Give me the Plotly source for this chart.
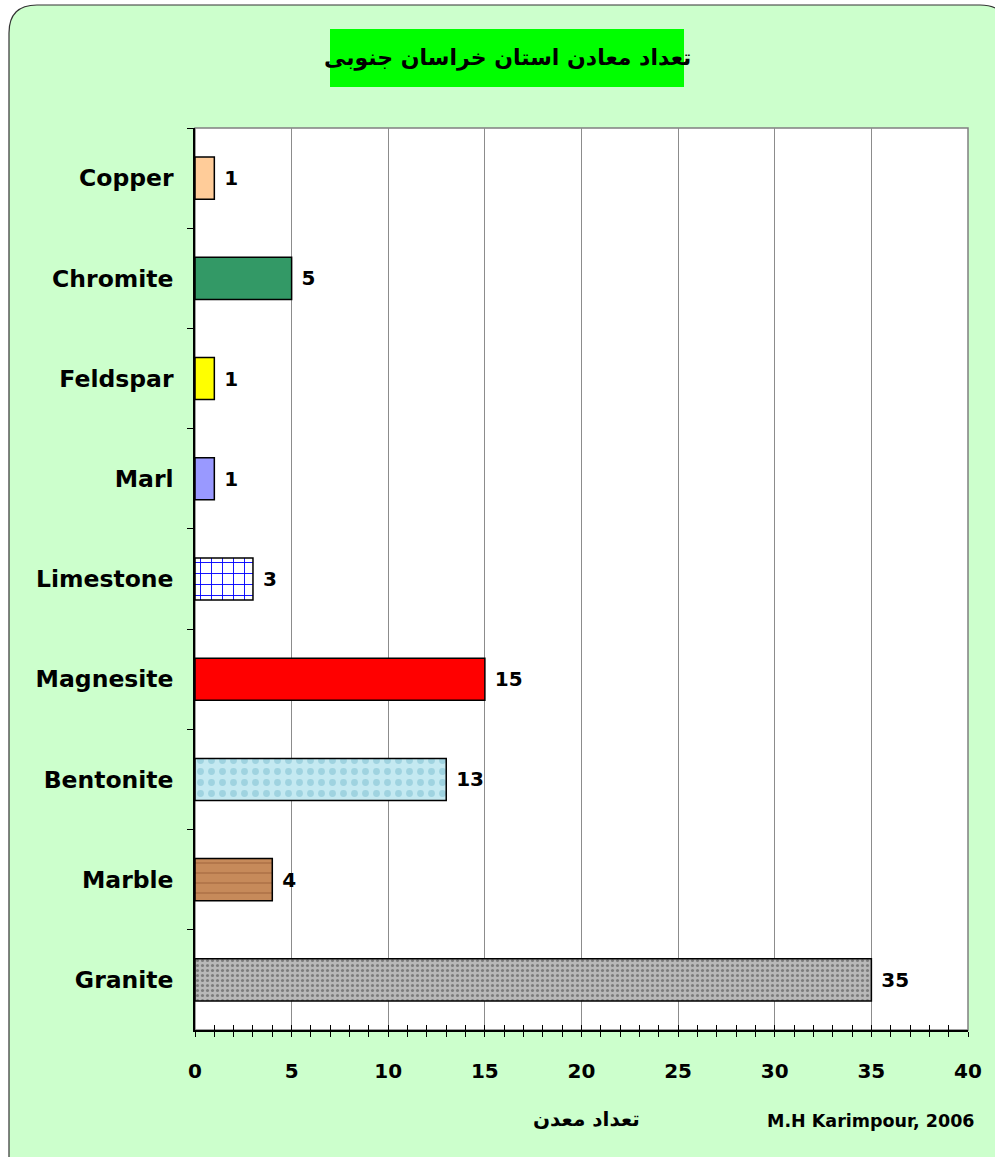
import plotly.graph_objects as go

# ---- data ----
categories = ["Copper", "Chromite", "Feldspar", "Marl", "Limestone",
              "Magnesite", "Bentonite", "Marble", "Granite"]
counts = [1, 5, 1, 1, 3, 15, 13, 4, 35]
bar_colors = ["#FFCC99", "#339966", "#FFFF00", "#9999FF", "#FFFFFF",
              "#FF0000", "#C4E9F1", "#C68A5A", "#B8B8B8"]
pattern_shapes = ["", "", "", "", "+", "", ".", "-", "."]
pattern_fg = ["#FFCC99", "#339966", "#FFFF00", "#9999FF", "#0000FF",
              "#FF0000", "#9FD3E0", "#AD7146", "#7C7C7C"]
pattern_size = [8, 8, 8, 8, 11, 8, 11, 10, 5]
pattern_solidity = [0.3, 0.3, 0.3, 0.3, 0.16, 0.3, 0.3, 0.15, 0.3]
x_ticks = [0, 5, 10, 15, 20, 25, 30, 35, 40]

title_text = "تعداد معادن استان خراسان جنوبی"
x_title = "تعداد معدن"
credit = "M.H Karimpour, 2006"

# ---- layout geometry (pixels) ----
W, H = 995, 1157
L, R, T, B = 195, 968, 128, 1030
PW, PH = R - L, B - T


def px(x, y):
    return (x - L) / PW, (B - y) / PH


def rounded_path(x0, y0, x1, y1, r):
    def p(x, y):
        a, b = px(x, y)
        return f"{a:.5f},{b:.5f}"
    s = f"M {p(x0 + r, y0)} L {p(x1 - r, y0)} Q {p(x1, y0)} {p(x1, y0 + r)} "
    s += f"L {p(x1, y1 - r)} Q {p(x1, y1)} {p(x1 - r, y1)} "
    s += f"L {p(x0 + r, y1)} Q {p(x0, y1)} {p(x0, y1 - r)} "
    s += f"L {p(x0, y0 + r)} Q {p(x0, y0)} {p(x0 + r, y0)} Z"
    return s


FONT = "DejaVu Sans, Liberation Sans, Arial, sans-serif"

fig = go.Figure()
for i, cat in enumerate(categories):
    pat = dict(shape=pattern_shapes[i], fgcolor=pattern_fg[i],
               bgcolor=bar_colors[i], size=pattern_size[i],
               solidity=pattern_solidity[i], fillmode="replace")
    fig.add_trace(go.Bar(
        x=[counts[i]], y=[cat], orientation="h", width=0.42,
        marker=dict(color=bar_colors[i],
                    line=dict(color="black", width=1.5),
                    pattern=pat),
        text=[str(counts[i])], texttemplate="\u00a0%{text}",
        textposition="outside",
        textfont=dict(family=FONT, size=20, color="black", weight="bold"),
        constraintext="none", cliponaxis=False, showlegend=False,
        name=cat, hoverinfo="x+y",
    ))
# invisible helper trace for the inner half of the crossing ticks
fig.add_trace(go.Scatter(x=[], y=[], xaxis="x2", yaxis="y",
                         showlegend=False, hoverinfo="skip"))

shapes = [
    dict(type="path", xref="paper", yref="paper",
         path=rounded_path(9, 5, 1008, 1195, 28),
         fillcolor="#CCFFCC", line=dict(color="#333333", width=1.2),
         layer="below"),
    dict(type="rect", xref="paper", yref="paper", x0=0, x1=1, y0=0, y1=1,
         fillcolor="white", line=dict(color="#808080", width=1.5),
         layer="below"),
]
tx0, ty0 = px(330, 29)
tx1, ty1 = px(684, 87)
shapes.append(dict(type="rect", xref="paper", yref="paper",
                   x0=tx0, x1=tx1, y0=ty1, y1=ty0,
                   fillcolor="#00FF00", line=dict(width=0), layer="below"))

ax_t = px(507, 58)
ax_x = px(586, 1119)
ax_c = px(977, 1121)
annotations = [
    dict(text=title_text, xref="paper", yref="paper", x=ax_t[0], y=ax_t[1],
         xanchor="center", yanchor="middle", showarrow=False,
         font=dict(family=FONT, size=22, color="black", weight="bold")),
    dict(text=x_title, xref="paper", yref="paper", x=ax_x[0], y=ax_x[1],
         xanchor="center", yanchor="middle", showarrow=False,
         font=dict(family=FONT, size=20, color="black", weight="bold")),
    dict(text=credit, xref="paper", yref="paper", x=ax_c[0], y=ax_c[1],
         xanchor="right", yanchor="middle", showarrow=False,
         font=dict(family=FONT, size=17.5, color="black", weight="bold")),
]

fig.update_layout(
    width=W, height=H,
    margin=dict(l=L, r=W - R, t=T, b=H - B, pad=0),
    paper_bgcolor="white", plot_bgcolor="white",
    shapes=shapes, annotations=annotations,
    barmode="overlay",
    xaxis=dict(range=[0, 40], tickvals=x_ticks, showgrid=True,
               gridcolor="#8C8C8C", gridwidth=1, zeroline=False,
               showline=True, linecolor="black", linewidth=1.5,
               ticks="outside", ticklen=5, tickcolor="black", tickwidth=1,
               minor=dict(dtick=1, tick0=0, ticks="outside", ticklen=5,
                          tickcolor="black", tickwidth=1, showgrid=False),
               ticklabelstandoff=17,
               tickfont=dict(family=FONT, size=20, color="black",
                             weight="bold"),
               fixedrange=True),
    xaxis2=dict(range=[0, 40], overlaying="x", anchor="y", side="bottom",
                dtick=1, tick0=0, ticks="inside", ticklen=5,
                tickcolor="black", tickwidth=1, showticklabels=False,
                showgrid=False, zeroline=False, showline=False,
                fixedrange=True),
    yaxis=dict(categoryorder="array", categoryarray=categories,
               autorange="reversed", tickson="boundaries",
               showgrid=False, zeroline=False,
               showline=True, linecolor="black", linewidth=1.5,
               ticks="outside", ticklen=6, tickcolor="black", tickwidth=1,
               ticklabelstandoff=15,
               tickfont=dict(family=FONT, size=23.5, color="black",
                             weight="bold"),
               fixedrange=True),
)

fig.write_html("out.html",
               config={"displayModeBar": False},
               post_script="document.body.style.margin='0px';")
